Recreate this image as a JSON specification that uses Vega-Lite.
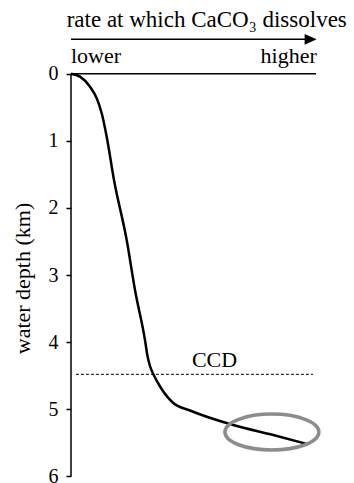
{
  "$schema": "https://vega.github.io/schema/vega-lite/v6.json",
  "width": 245,
  "height": 483,
  "autosize": "none",
  "padding": {"left": 71, "right": 38, "top": 0, "bottom": 0},
  "background": "white",
  "config": {
    "view": {"stroke": null},
    "font": "Liberation Serif, Times New Roman, DejaVu Serif, serif",
    "text": {"font": "Liberation Serif, Times New Roman, DejaVu Serif, serif", "color": "black"}
  },
  "datasets": {
    "curve": [
      {"rate": 0, "depth": 0},
      {"rate": 3.67, "depth": 0.043},
      {"rate": 7.76, "depth": 0.192},
      {"rate": 10.49, "depth": 0.365},
      {"rate": 12.53, "depth": 0.589},
      {"rate": 14.57, "depth": 0.938},
      {"rate": 17.55, "depth": 1.583},
      {"rate": 22.73, "depth": 2.478},
      {"rate": 26.12, "depth": 3.223},
      {"rate": 30.2, "depth": 3.968},
      {"rate": 31.22, "depth": 4.207},
      {"rate": 32.24, "depth": 4.356},
      {"rate": 33.67, "depth": 4.483},
      {"rate": 36.73, "depth": 4.684},
      {"rate": 41.76, "depth": 4.908},
      {"rate": 48.57, "depth": 5.019},
      {"rate": 66.24, "depth": 5.236},
      {"rate": 82.57, "depth": 5.385},
      {"rate": 96.86, "depth": 5.524}
    ],
    "frame": [
      {"group": "axis", "rate": 0, "depth": 0},
      {"group": "axis", "rate": 0, "depth": 6},
      {"group": "top", "rate": 0, "depth": 0},
      {"group": "top", "rate": 100, "depth": 0},
      {"group": "arrow", "rate": 0, "depth": -0.514},
      {"group": "arrow", "rate": 97, "depth": -0.514}
    ],
    "ccd": [
      {"rate": 2.0, "depth": 4.48},
      {"rate": 98.8, "depth": 4.48}
    ],
    "arrowhead": [{"rate": 97.8, "depth": -0.514}],
    "ellipse": [{"rate": 82, "depth": 5.34}],
    "title": [{"rate": 55.4, "depth": -0.70, "label": "rate at which CaCO₃ dissolves"}],
    "lower": [{"rate": 0, "depth": -0.157, "label": "lower"}],
    "higher": [{"rate": 100.3, "depth": -0.157, "label": "higher"}],
    "ccdlabel": [{"rate": 58.6, "depth": 4.37, "label": "CCD"}]
  },
  "encoding": {
    "x": {"field": "rate", "type": "quantitative", "scale": {"domain": [0, 100], "nice": false, "zero": false}, "axis": null},
    "y": {
      "field": "depth",
      "type": "quantitative",
      "scale": {"domain": [-1.1, 6.1], "reverse": true, "nice": false, "zero": false},
      "axis": {
        "title": "water depth (km)",
        "values": [0, 1, 2, 3, 4, 5, 6],
        "domain": false,
        "grid": false,
        "ticks": true,
        "tickColor": "black",
        "tickWidth": 1.5,
        "tickSize": 5,
        "labelFont": "Liberation Serif, Times New Roman, DejaVu Serif, serif",
        "labelFontSize": 20,
        "labelColor": "black",
        "labelPadding": 8,
        "titleFont": "Liberation Serif, Times New Roman, DejaVu Serif, serif",
        "titleFontSize": 22,
        "titleFontWeight": "normal",
        "titleColor": "black",
        "titlePadding": 14,
        "titleY": 278
      }
    }
  },
  "layer": [
    {
      "data": {"name": "frame"},
      "mark": {"type": "line", "color": "black", "strokeWidth": 1.5, "clip": false},
      "encoding": {"detail": {"field": "group", "type": "nominal"}}
    },
    {
      "data": {"name": "ccd"},
      "mark": {"type": "line", "color": "black", "strokeWidth": 1, "strokeDash": [3, 2]},
      "encoding": {}
    },
    {
      "data": {"name": "curve"},
      "mark": {"type": "line", "color": "black", "strokeWidth": 2.5, "interpolate": "monotone"},
      "encoding": {}
    },
    {
      "data": {"name": "ellipse"},
      "mark": {
        "type": "point",
        "filled": false,
        "color": "#8c8c8c",
        "opacity": 1,
        "strokeWidth": 3.5,
        "size": 8836,
        "shape": "M -1 0 C -1 -0.2115 -0.5523 -0.383 0 -0.383 C 0.5523 -0.383 1 -0.2115 1 0 C 1 0.2115 0.5523 0.383 0 0.383 C -0.5523 0.383 -1 0.2115 -1 0 Z"
      }
    },
    {
      "data": {"name": "arrowhead"},
      "mark": {"type": "point", "filled": true, "color": "black", "opacity": 1, "size": 144, "shape": "M -1 -0.9 L 1 0 L -1 0.9 Z", "clip": false}
    },
    {
      "data": {"name": "title"},
      "mark": {"type": "text", "fontSize": 23, "align": "center", "baseline": "alphabetic", "color": "black"},
      "encoding": {"text": {"field": "label"}}
    },
    {
      "data": {"name": "lower"},
      "mark": {"type": "text", "fontSize": 22, "align": "left", "baseline": "alphabetic", "color": "black"},
      "encoding": {"text": {"field": "label"}}
    },
    {
      "data": {"name": "higher"},
      "mark": {"type": "text", "fontSize": 22, "align": "right", "baseline": "alphabetic", "color": "black"},
      "encoding": {"text": {"field": "label"}}
    },
    {
      "data": {"name": "ccdlabel"},
      "mark": {"type": "text", "fontSize": 22, "align": "center", "baseline": "alphabetic", "color": "black"},
      "encoding": {"text": {"field": "label"}}
    }
  ]
}
